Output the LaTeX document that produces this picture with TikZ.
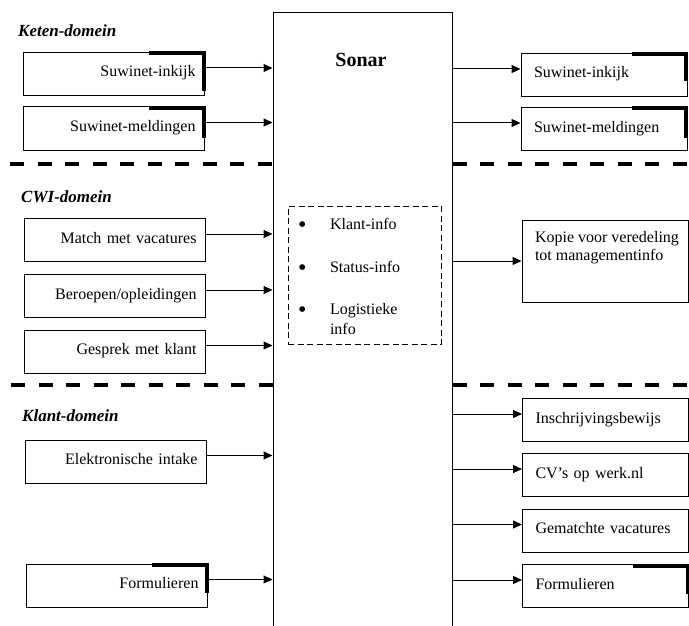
\documentclass[tikz,border=0pt]{standalone}
\usepackage{fontspec}
\setmainfont{Liberation Serif}
\usetikzlibrary{arrows.meta}

\tikzset{
  lbox/.style={draw, line width=1pt, minimum width=181pt, minimum height=43pt, text width=163pt, inner xsep=9pt, align=right, text height=11pt, text depth=5pt, font=\fontsize{16}{19}\selectfont},
  rbox/.style={draw, line width=1pt, minimum width=166pt, minimum height=43pt, text width=140pt, inner xsep=13pt, align=left, text height=11pt, text depth=5pt, font=\fontsize{16}{19}\selectfont},
  domlabel/.style={anchor=west, inner sep=0pt, font=\bfseries\itshape\fontsize{17}{20}\selectfont},
  arr/.style={line width=1pt, -{Triangle[length=9pt,width=8pt]}},
  tabline/.style={line width=4pt, line join=miter},
  seprule/.style={line width=3.5pt, dash pattern=on 14pt off 13.5pt}
}
\newcommand\listdot{\raisebox{-2.5pt}{\fontsize{24}{20}\selectfont\textbullet}}

\begin{document}
\begin{tikzpicture}[x=1pt, y=-1pt]
\useasboundingbox (0,0) rectangle (689,626);

\node[draw, line width=1pt, minimum width=179pt, minimum height=640pt, anchor=north] (sonar) at (362.5,12) {};
\node[font=\bfseries\fontsize{20}{24}\selectfont] (title) at (361,60) {Sonar};

\node[domlabel] (keten) at (18,31) {Keten-domein};
\node[domlabel] (cwi) at (21,197) {CWI-domein};
\node[domlabel] (klant) at (22,416) {Klant-domein};

\node[lbox] (inkijk) at (114,74) {Suwinet-inkijk};
\node[lbox] (meldingen) at (114,128.5) {Suwinet-meldingen};
\node[lbox] (match) at (115,240) {Match met vacatures};
\node[lbox] (beroepen) at (115,296) {Beroepen/opleidingen};
\node[lbox] (gesprek) at (115,351.5) {Gesprek met klant};
\node[lbox] (intake) at (116,461.5) {Elektronische intake};
\node[lbox] (formL) at (117,585.5) {Formulieren};

\node[rbox] (inkijkR) at (604,75) {Suwinet-inkijk};
\node[rbox] (meldingenR) at (604,129) {Suwinet-meldingen};
\node[draw, line width=1pt, minimum width=166pt, inner xsep=0pt, inner ysep=11pt, font=\fontsize{16}{18.5}\selectfont] (kopie) at (605,261)
  {\parbox[c][60pt][t]{166pt}{\leftskip=13pt Kopie voor veredeling\\tot managementinfo}};
\node[rbox] (bewijs) at (605.5,420) {Inschrijvingsbewijs};
\node[rbox] (cvs) at (605.5,475) {CV’s op werk.nl};
\node[rbox] (gematcht) at (605.5,530.5) {Gematchte vacatures};
\node[rbox] (formR) at (605.5,586) {Formulieren};

\node[draw, line width=1pt, dash pattern=on 6pt off 3.5pt, minimum width=153pt, minimum height=138pt, inner xsep=10pt, text width=133pt, align=left, font=\fontsize{16}{20}\selectfont] (info) at (364.5,275)
  {\begin{tabular}{@{}p{32pt}@{}l@{}}
   \rule{0pt}{20pt}\listdot & Klant-info\\[23pt]
   \listdot & Status-info\\[22pt]
   \listdot & Logistieke\\
            & info
   \end{tabular}};

\foreach \n in {inkijk,meldingen,match,beroepen,gesprek,intake,formL}
  \draw[arr] ([yshift=6pt]\n.east) -- ([yshift=6pt]\n.east -| sonar.west);
\foreach \n in {inkijkR,meldingenR,bewijs,cvs,gematcht,formR}
  \draw[arr] ([yshift=6pt]\n.west -| sonar.east) -- ([yshift=6pt]\n.west);
\draw[arr] (kopie.west -| sonar.east) -- (kopie.west);

\foreach \n/\d in {inkijk/38,meldingen/30,formL/28,inkijkR/27,meldingenR/30,formR/28}
  \draw[tabline] ([xshift=-56pt,yshift=-1.5pt]\n.north east) -- ([xshift=-1.5pt,yshift=-1.5pt]\n.north east) -- ++(0,\d);

\coordinate (sepA) at (10,164);
\coordinate (sepAend) at (689,164);
\coordinate (sepB) at (11,385);
\coordinate (sepBend) at (689,385);
\draw[seprule] (sepA) -- (sepA -| sonar.west);
\draw[seprule] (sepA -| sonar.east) -- (sepAend);
\draw[seprule] (sepB) -- (sepB -| sonar.west);
\draw[seprule] (sepB -| sonar.east) -- (sepBend);
\end{tikzpicture}
\end{document}
